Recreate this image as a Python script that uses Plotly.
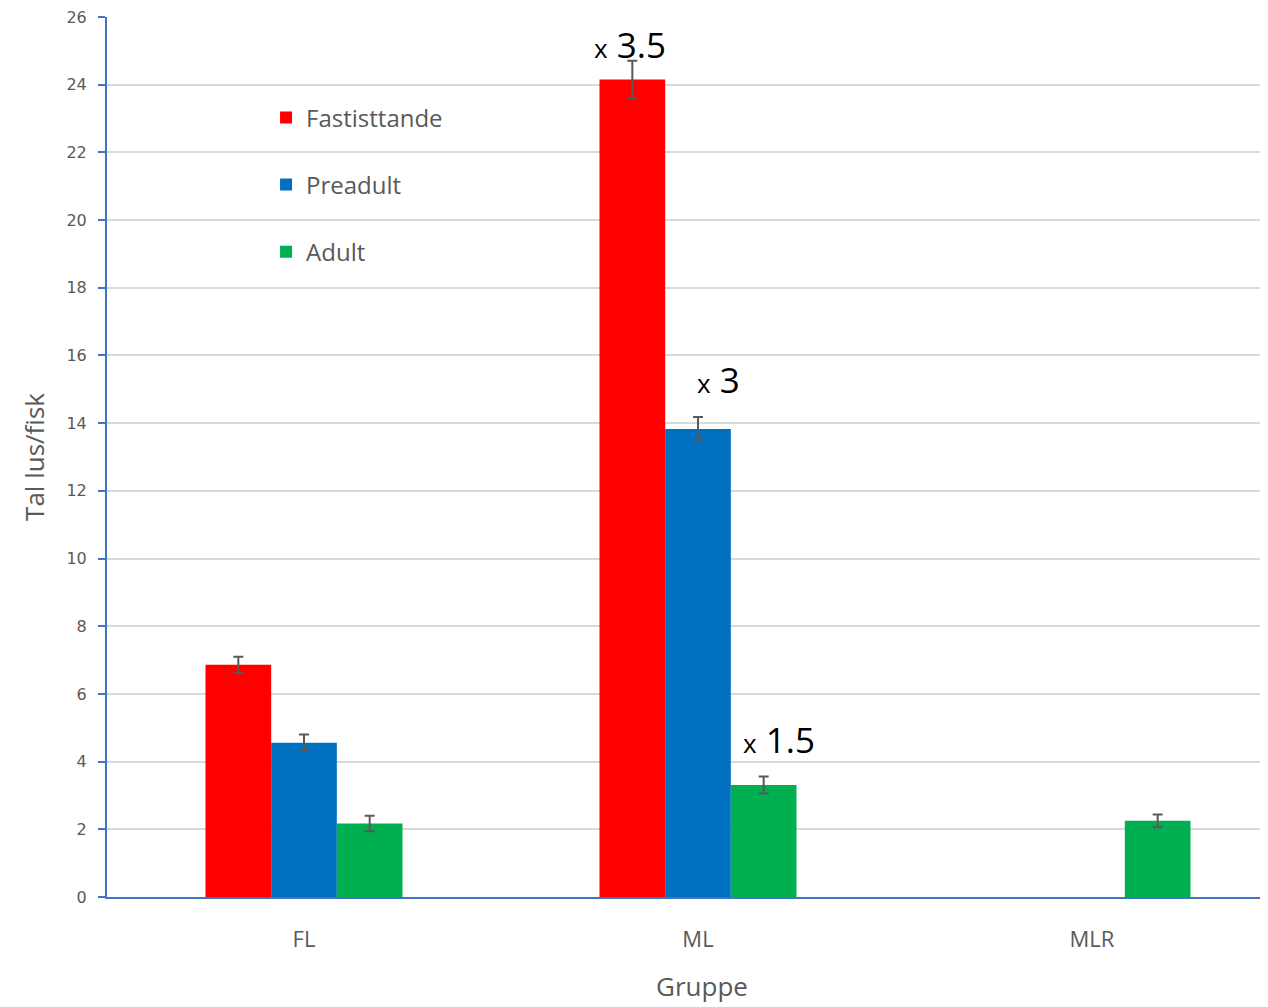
import plotly.graph_objects as go

groups = ["FL", "ML", "MLR"]
series = ["Fastisttande", "Preadult", "Adult"]
colors = ["#ff0000", "#0070c0", "#00b050"]
fastisttande = [6.86, 24.15, None]
fastisttande_err = [0.24, 0.56, None]
preadult = [4.56, 13.83, None]
preadult_err = [0.24, 0.35, None]
adult = [2.17, 3.31, 2.25]
adult_err = [0.23, 0.25, 0.19]
y_ticks = list(range(0, 27, 2))
factor_labels = ["3.5", "3", "1.5"]

values = [fastisttande, preadult, adult]
errors = [fastisttande_err, preadult_err, adult_err]

fig = go.Figure()
for i, name in enumerate(series):
    fig.add_trace(go.Bar(
        x=groups, y=values[i], name=name,
        marker=dict(color=colors[i], line=dict(width=0)),
        legendgroup=name,
        error_y=dict(type="data", array=errors[i], visible=True,
                     color="#595959", thickness=2, width=5),
    ))

bargap = 0.5
bw = (1 - bargap) / 3
xshifts = [-2, 20, 15]
yshifts = [-9, 12, 12]
for i in range(3):
    top = values[i][1] + errors[i][1]
    fig.add_annotation(
        x=1 + (i - 1) * bw, y=top, xref="x", yref="y",
        text=f"<span style='font-size:26px'>x</span> {factor_labels[i]}",
        showarrow=False, yanchor="bottom", yshift=yshifts[i], xshift=xshifts[i],
        font=dict(family="Open Sans, Noto Sans, sans-serif", size=35, color="#000000"),
    )

# x-axis title, centred on the middle category as in the reference
fig.add_annotation(
    x=1, y=0, xref="x", yref="paper", text="Gruppe",
    showarrow=False, yanchor="middle", yshift=-89, xshift=4,
    font=dict(family="Open Sans, Noto Sans, sans-serif", size=26, color="#595959"),
)

fig.update_layout(
    width=1260, height=999,
    margin=dict(l=99, r=0, t=9, b=110),
    paper_bgcolor="white", plot_bgcolor="white",
    barmode="group", bargap=bargap, bargroupgap=0,
    font=dict(family="Open Sans, Noto Sans, sans-serif", color="#595959"),
    legend=dict(x=0.137, y=0.911, xanchor="left", yanchor="top",
                font=dict(size=24, color="#595959"),
                tracegroupgap=33, bgcolor="rgba(0,0,0,0)"),
    showlegend=True,
)
fig.update_xaxes(
    type="category", range=[-0.5, -0.5 + 1161 / 394],
    showline=True, linecolor="#4472c4", linewidth=2,
    ticks="", showgrid=False,
    tickfont=dict(size=22, color="#595959"),
    ticklabelstandoff=22,
)
fig.update_yaxes(
    range=[0, 26], tickvals=y_ticks,
    showline=True, linecolor="#4472c4", linewidth=2,
    ticks="outside", ticklen=7, tickcolor="#4472c4", tickwidth=2,
    showgrid=True, gridcolor="#d9d9d9", gridwidth=2,
    zeroline=False,
    tickfont=dict(family="DejaVu Sans, Verdana, sans-serif", size=16, color="#595959"),
    ticklabelstandoff=8, ticklabeloverflow="allow",
    title=dict(text="Tal lus/fisk", font=dict(size=26, color="#595959"), standoff=14),
)

fig.write_html("out.html")
